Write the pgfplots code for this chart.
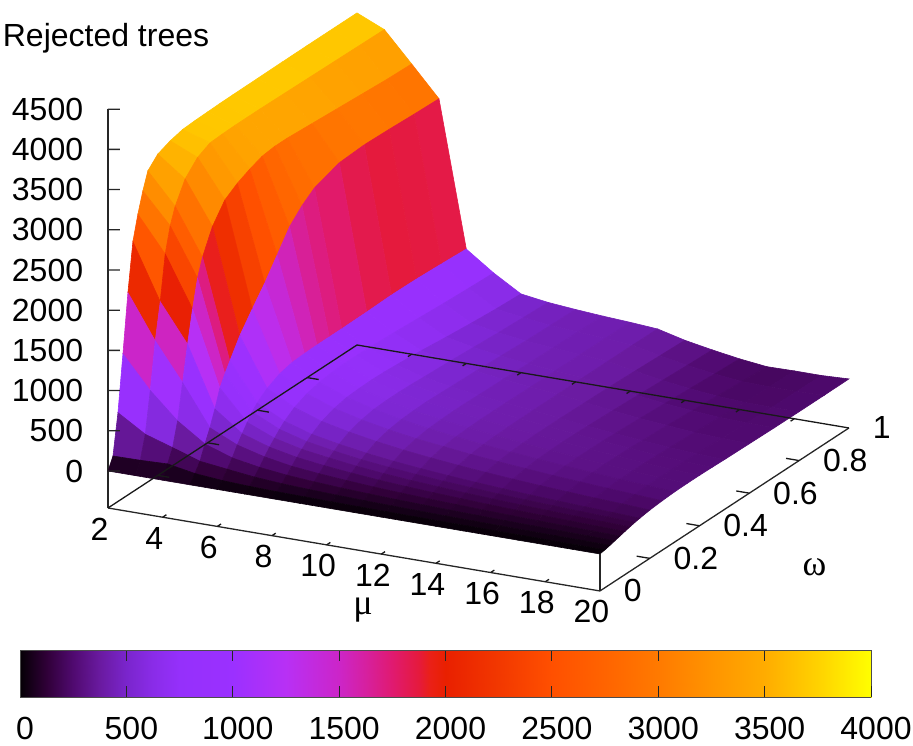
\documentclass[border=0pt]{standalone}
\usepackage{pgfplots}
\usepackage{pgfplotstable}
\pgfplotsset{compat=1.18}
\usepackage{fontspec}
\setmainfont{Liberation Sans}
\newfontfamily\symfont{Liberation Serif}
\pgfplotsset{
  colormap={gp}{
    rgb255(0)=(5,0,5) rgb255(125)=(48,0,56) rgb255(250)=(80,10,112) rgb255(375)=(106,26,160)
    rgb255(500)=(122,37,204) rgb255(625)=(138,44,232) rgb255(750)=(149,48,251) rgb255(1000)=(155,48,255)
    rgb255(1250)=(184,48,245) rgb255(1500)=(204,37,200) rgb255(1625)=(214,32,159) rgb255(1750)=(224,26,112)
    rgb255(1875)=(229,26,60) rgb255(1925)=(234,32,24) rgb255(2000)=(233,32,0) rgb255(2250)=(242,56,0)
    rgb255(2500)=(255,80,0) rgb255(2750)=(255,100,0) rgb255(3000)=(255,122,0) rgb255(3250)=(255,148,0)
    rgb255(3500)=(255,172,0) rgb255(3750)=(255,210,0) rgb255(4000)=(255,255,0)
  }
}
\pgfplotstableread{
mu om z
2 1 3670
3 1 3520
4 1 3150
5 1 2774
6 1 962
7 1 722
8 1 519
9 1 470
10 1 440
11 1 415
12 1 395
13 1 370
14 1 286
15 1 224
16 1 170
17 1 130
18 1 135
19 1 135
20 1 150
2 0.9 3670
3 0.9 3525
4 0.9 3160
5 0.9 2785
6 0.9 980
7 0.9 735
8 0.9 535
9 0.9 485
10 0.9 445
11 0.9 420
12 0.9 398
13 0.9 372
14 0.9 298
15 0.9 235
16 0.9 185
17 0.9 148
18 0.9 140
19 0.9 140
20 0.9 148
2 0.8 3670
3 0.8 3530
4 0.8 3180
5 0.8 2800
6 0.8 995
7 0.8 750
8 0.8 560
9 0.8 500
10 0.8 455
11 0.8 425
12 0.8 400
13 0.8 372
14 0.8 310
15 0.8 250
16 0.8 205
17 0.8 170
18 0.8 150
19 0.8 145
20 0.8 148
2 0.7 3668
3 0.7 3535
4 0.7 3200
5 0.7 2810
6 0.7 1000
7 0.7 770
8 0.7 590
9 0.7 520
10 0.7 470
11 0.7 430
12 0.7 400
13 0.7 372
14 0.7 320
15 0.7 265
16 0.7 222
17 0.7 190
18 0.7 165
19 0.7 155
20 0.7 150
2 0.6 3665
3 0.6 3540
4 0.6 3220
5 0.6 2790
6 0.6 990
7 0.6 790
8 0.6 625
9 0.6 540
10 0.6 485
11 0.6 440
12 0.6 400
13 0.6 370
14 0.6 325
15 0.6 280
16 0.6 240
17 0.6 210
18 0.6 180
19 0.6 165
20 0.6 155
2 0.5 3662
3 0.5 3545
4 0.5 3240
5 0.5 2680
6 0.5 985
7 0.5 805
8 0.5 650
9 0.5 555
10 0.5 495
11 0.5 445
12 0.5 405
13 0.5 370
14 0.5 330
15 0.5 290
16 0.5 255
17 0.5 225
18 0.5 195
19 0.5 175
20 0.5 160
2 0.45 3660
3 0.45 3545
4 0.45 3240
5 0.45 2560
6 0.45 985
7 0.45 810
8 0.45 660
9 0.45 565
10 0.45 500
11 0.45 450
12 0.45 405
13 0.45 368
14 0.45 330
15 0.45 295
16 0.45 260
17 0.45 232
18 0.45 200
19 0.45 180
20 0.45 165
2 0.4 3655
3 0.4 3545
4 0.4 3220
5 0.4 2400
6 0.4 985
7 0.4 810
8 0.4 665
9 0.4 570
10 0.4 505
11 0.4 450
12 0.4 405
13 0.4 365
14 0.4 330
15 0.4 295
16 0.4 262
17 0.4 235
18 0.4 205
19 0.4 183
20 0.4 168
2 0.35 3650
3 0.35 3540
4 0.35 3160
5 0.35 2150
6 0.35 980
7 0.35 800
8 0.35 660
9 0.35 570
10 0.35 500
11 0.35 445
12 0.35 400
13 0.35 360
14 0.35 325
15 0.35 292
16 0.35 262
17 0.35 235
18 0.35 205
19 0.35 185
20 0.35 168
2 0.3 3640
3 0.3 3530
4 0.3 3085
5 0.3 1900
6 0.3 970
7 0.3 780
8 0.3 650
9 0.3 560
10 0.3 490
11 0.3 435
12 0.3 390
13 0.3 350
14 0.3 315
15 0.3 285
16 0.3 255
17 0.3 230
18 0.3 205
19 0.3 185
20 0.3 165
2 0.25 3600
3 0.25 3450
4 0.25 2980
5 0.25 1680
6 0.25 930
7 0.25 740
8 0.25 615
9 0.25 530
10 0.25 465
11 0.25 410
12 0.25 370
13 0.25 330
14 0.25 298
15 0.25 268
16 0.25 240
17 0.25 218
18 0.25 195
19 0.25 175
20 0.25 155
2 0.2 3536
3 0.2 3284
4 0.2 2750
5 0.2 1450
6 0.2 850
7 0.2 670
8 0.2 555
9 0.2 480
10 0.2 420
11 0.2 370
12 0.2 330
13 0.2 295
14 0.2 265
15 0.2 238
16 0.2 215
17 0.2 195
18 0.2 175
19 0.2 160
20 0.2 140
2 0.16 3408
3 0.16 3025
4 0.16 2450
5 0.16 1215
6 0.16 750
7 0.16 580
8 0.16 475
9 0.16 410
10 0.16 355
11 0.16 312
12 0.16 277
13 0.16 248
14 0.16 222
15 0.16 200
16 0.16 180
17 0.16 163
18 0.16 148
19 0.16 135
20 0.16 120
2 0.14 3200
3 0.14 2823
4 0.14 2230
5 0.14 1095
6 0.14 680
7 0.14 520
8 0.14 425
9 0.14 365
10 0.14 315
11 0.14 278
12 0.14 247
13 0.14 220
14 0.14 198
15 0.14 177
16 0.14 160
17 0.14 145
18 0.14 132
19 0.14 120
20 0.14 108
2 0.12 2950
3 0.12 2513
4 0.12 1886
5 0.12 959
6 0.12 590
7 0.12 450
8 0.12 370
9 0.12 320
10 0.12 275
11 0.12 240
12 0.12 213
13 0.12 190
14 0.12 170
15 0.12 153
16 0.12 138
17 0.12 125
18 0.12 114
19 0.12 103
20 0.12 93
2 0.1 2650
3 0.1 1960
4 0.1 1488
5 0.1 740
6 0.1 490
7 0.1 380
8 0.1 310
9 0.1 265
10 0.1 230
11 0.1 200
12 0.1 177
13 0.1 158
14 0.1 142
15 0.1 127
16 0.1 114
17 0.1 103
18 0.1 94
19 0.1 85
20 0.1 77
2 0.08 2056
3 0.08 1513
4 0.08 1051
5 0.08 547
6 0.08 390
7 0.08 300
8 0.08 240
9 0.08 205
10 0.08 178
11 0.08 155
12 0.08 137
13 0.08 122
14 0.08 110
15 0.08 98
16 0.08 88
17 0.08 80
18 0.08 73
19 0.08 66
20 0.08 60
2 0.06 1334
3 0.06 936
4 0.06 615
5 0.06 386
6 0.06 270
7 0.06 210
8 0.06 170
9 0.06 145
10 0.06 125
11 0.06 110
12 0.06 97
13 0.06 87
14 0.06 78
15 0.06 70
16 0.06 63
17 0.06 57
18 0.06 52
19 0.06 47
20 0.06 43
2 0.04 644
3 0.04 433
4 0.04 324
5 0.04 212
6 0.04 170
7 0.04 130
8 0.04 105
9 0.04 90
10 0.04 78
11 0.04 68
12 0.04 60
13 0.04 54
14 0.04 48
15 0.04 43
16 0.04 39
17 0.04 35
18 0.04 32
19 0.04 29
20 0.04 26
2 0.02 146
3 0.02 150
4 0.02 162
5 0.02 100
6 0.02 70
7 0.02 55
8 0.02 45
9 0.02 40
10 0.02 35
11 0.02 30
12 0.02 27
13 0.02 24
14 0.02 22
15 0.02 20
16 0.02 18
17 0.02 16
18 0.02 14
19 0.02 12
20 0.02 11
2 0 0
3 0 0
4 0 0
5 0 0
6 0 0
7 0 0
8 0 0
9 0 0
10 0 0
11 0 0
12 0 0
13 0 0
14 0 0
15 0 0
16 0 0
17 0 0
18 0 0
19 0 0
20 0 0
}\surfdata
\begin{document}
\begin{tikzpicture}
\fontsize{32}{38}\selectfont
\path[use as bounding box] (0,0) rectangle (913pt,745pt);
\begin{axis}[
  at={(108pt,274pt)}, anchor=origin,
  x={(27.33pt,-4.61pt)}, y={(249pt,163pt)}, z={(0pt,0.0804pt)},
  xmin=2,xmax=20,ymin=0,ymax=1,zmin=-460,zmax=4500,
  axis x line*=left, axis y line*=left, axis z line*=left,
  axis line style={-,black!85,line width=1.3pt},
  xtick={2,4,...,20}, ytick={0,0.2,...,1}, ztick={0,500,...,4500},
  yticklabels={0,0.2,0.4,0.6,0.8,1},
  scaled z ticks=false,
  major tick length=0pt,
  tick label style={font=\fontsize{32}{38}\selectfont, /pgf/number format/assume math mode=true, /pgf/number format/1000 sep={}},
  xticklabel style={anchor=center,xshift=-8.5pt,yshift=-21pt},
  yticklabel style={anchor=west,xshift=13pt,yshift=0pt},
  zticklabel style={anchor=east,xshift=-14pt,yshift=0pt},
  clip=false, unbounded coords=jump,
  colormap name=gp, point meta min=0, point meta max=4000,
  xlabel={\symfont μ}, ylabel={\symfont ω}, zlabel={Rejected trees},
  every axis x label/.style={at={(axis cs:11,0,-460)},anchor=center,yshift=-61pt,xshift=9pt,font=\fontsize{36}{40}\selectfont},
  every axis y label/.style={at={(axis cs:20,0.5,-460)},anchor=center,xshift=90pt,yshift=-58pt,font=\fontsize{36}{40}\selectfont},
  every axis z label/.style={at={(axis cs:2,0,4500)},anchor=west,xshift=-116pt,yshift=71pt,font=\fontsize{32}{38}\selectfont},
]
\addplot3[surf, shader=faceted, faceted color=mapped color, line width=0.6pt, mesh/cols=19, z buffer=none, point meta=explicit] table[x=mu,y=om,z=z,meta expr={(\thisrow{mu}==5 ? (\thisrow{om}>=0.7 ? 0.98 : 0.93)*\thisrow{z} : (\thisrow{mu}<4 ? 1.022*\thisrow{z} : \thisrow{z}+max(0,\thisrow{mu}-10)*10*min(1,\thisrow{om}/0.3)))}] {\surfdata};
% base box on top of the surface
\addplot3[black!90,line width=1.3pt,no marks] coordinates {(2,0,-460) (2,1,-460) (20,1,-460)};
\addplot3[black!85,line width=1.3pt,no marks] coordinates {(20,0,-460) (20,0,0)};
% z ticks
\addplot3[black!85,line width=1.3pt,no marks] coordinates {
(2,0,0)(2.349,0.00987,0)(nan,nan,nan)
(2,0,500)(2.349,0.00987,500)(nan,nan,nan)
(2,0,1000)(2.349,0.00987,1000)(nan,nan,nan)
(2,0,1500)(2.349,0.00987,1500)(nan,nan,nan)
(2,0,2000)(2.349,0.00987,2000)(nan,nan,nan)
(2,0,2500)(2.349,0.00987,2500)(nan,nan,nan)
(2,0,3000)(2.349,0.00987,3000)(nan,nan,nan)
(2,0,3500)(2.349,0.00987,3500)(nan,nan,nan)
(2,0,4000)(2.349,0.00987,4000)(nan,nan,nan)
(2,0,4500)(2.349,0.00987,4500)};
% omega ticks, front and back
\addplot3[black!90,line width=1.3pt,no marks] coordinates {
(20,0.2,-460)(19.52,0.2,-460)(nan,nan,nan)
(20,0.4,-460)(19.52,0.4,-460)(nan,nan,nan)
(20,0.6,-460)(19.52,0.6,-460)(nan,nan,nan)
(20,0.8,-460)(19.52,0.8,-460)(nan,nan,nan)
(2,0.2,-460)(2.42,0.2,-460)(nan,nan,nan)
(2,0.4,-460)(2.42,0.4,-460)(nan,nan,nan)
(2,0.6,-460)(2.42,0.6,-460)(nan,nan,nan)
(2,0.8,-460)(2.42,0.8,-460)};
% mu ticks, front and back
\addplot3[black!90,line width=1.3pt,no marks] coordinates {
(4,0,-460)(4,0.015,-460)(nan,nan,nan)
(6,0,-460)(6,0.015,-460)(nan,nan,nan)
(8,0,-460)(8,0.015,-460)(nan,nan,nan)
(10,0,-460)(10,0.015,-460)(nan,nan,nan)
(12,0,-460)(12,0.015,-460)(nan,nan,nan)
(14,0,-460)(14,0.015,-460)(nan,nan,nan)
(16,0,-460)(16,0.015,-460)(nan,nan,nan)
(18,0,-460)(18,0.015,-460)(nan,nan,nan)
(4,1,-460)(4,0.985,-460)(nan,nan,nan)
(6,1,-460)(6,0.985,-460)(nan,nan,nan)
(8,1,-460)(8,0.985,-460)(nan,nan,nan)
(10,1,-460)(10,0.985,-460)(nan,nan,nan)
(12,1,-460)(12,0.985,-460)(nan,nan,nan)
(14,1,-460)(14,0.985,-460)(nan,nan,nan)
(16,1,-460)(16,0.985,-460)(nan,nan,nan)
(18,1,-460)(18,0.985,-460)};
\end{axis}
\begin{axis}[
  at={(20pt,48pt)}, anchor=south west, width=851pt, height=47pt, scale only axis,
  xmin=0,xmax=4000,ymin=0,ymax=1, ytick=\empty, xtick={0,500,...,4000},
  tick align=inside, major tick length=11pt, tick pos=both,
  axis line style={black!70,line width=1pt}, tick style={black!85,line width=1pt},
  tick label style={font=\fontsize{32}{38}\selectfont, /pgf/number format/assume math mode=true, /pgf/number format/1000 sep={}},
  xticklabel style={xshift=5pt,yshift=-9pt},
  scaled x ticks=false, view={0}{90},
  colormap name=gp, point meta min=0, point meta max=4000, axis on top,
]
\addplot3[surf, shader=interp, point meta=x, mesh/cols=2] coordinates {(0,0,0) (4000,0,0) (0,1,0) (4000,1,0)};
\end{axis}
\end{tikzpicture}
\end{document}
